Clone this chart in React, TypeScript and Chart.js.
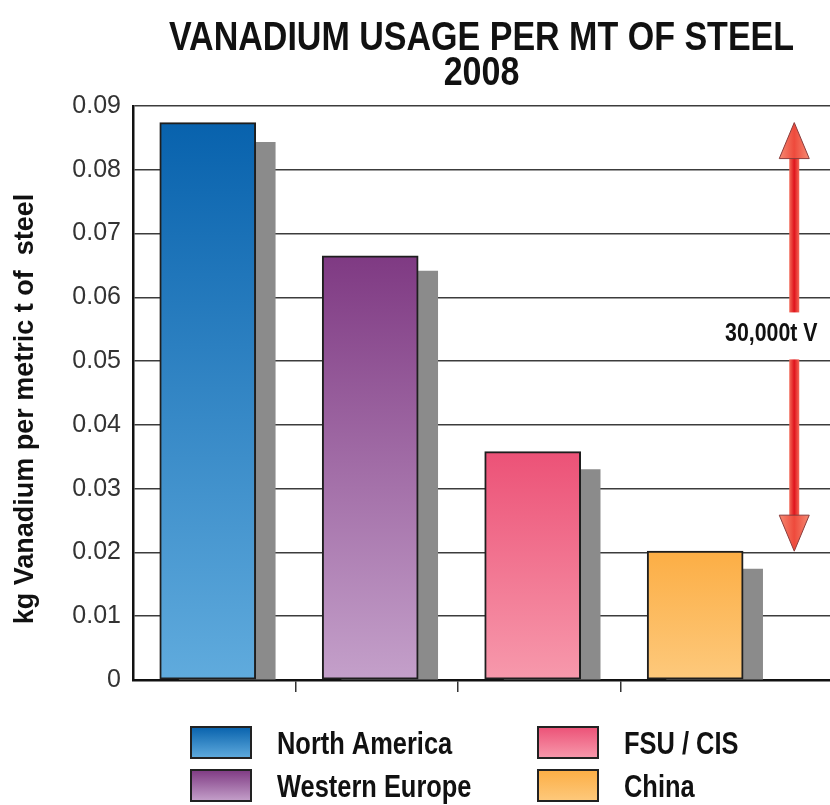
import React, { useEffect, useRef } from 'react';
import { Chart, registerables } from 'chart.js';

Chart.register(...registerables);

// ---------- data ----------
const TITLE_LINES = ['VANADIUM USAGE PER MT OF STEEL', '2008'];
const Y_TITLE = 'kg Vanadium per metric t of  steel';
const CATEGORIES = ['North America', 'Western Europe', 'FSU / CIS', 'China'];
const USAGE = [0.0874, 0.0665, 0.0358, 0.0202];
const SHADOW = [0.0843, 0.0641, 0.033, 0.0174];
const Y_TICK_LABELS = ['0', '0.01', '0.02', '0.03', '0.04', '0.05', '0.06', '0.07', '0.08', '0.09'];
const ARROW_LABEL = '30,000t V';
const ARROW_LABEL_AT = 0.0545;

// ---------- styles ----------
const TOP_COLORS = ['#0862ad', '#7f3a83', '#ec5277', '#fcae45'];
const BOTTOM_COLORS = ['#60abdd', '#c4a0ca', '#f799ac', '#fdc97c'];
const SHADOW_COLOR = '#8b8b8b';
const X_MAX = 4.29;
const BAR_POS = 0.46;
const SHADOW_SHIFT = 0.12;
const ARROW_X = 4.07;
const NARROW = 0.82;
const FONT = '"Liberation Sans", Arial, sans-serif';

function narrowText(
  ctx: CanvasRenderingContext2D,
  text: string,
  x: number,
  y: number,
  size: number,
  align: CanvasTextAlign,
  scaleX = NARROW
) {
  ctx.save();
  ctx.translate(x, y);
  ctx.scale(scaleX, 1);
  ctx.font = `bold ${size}px ${FONT}`;
  ctx.fillStyle = '#111';
  ctx.textAlign = align;
  ctx.textBaseline = 'alphabetic';
  ctx.fillText(text, 0, 0);
  ctx.restore();
}

const textPlugin = {
  id: 'textPlugin',
  afterDraw(chart: any) {
    const { ctx, chartArea } = chart;
    const cx = (chartArea.left + chartArea.right) / 2;
    // title
    narrowText(ctx, TITLE_LINES[0], cx, chartArea.top - 56, 41, 'center', 0.83);
    narrowText(ctx, TITLE_LINES[1], cx, chartArea.top - 21, 41, 'center', 0.83);
    // y title
    ctx.save();
    ctx.translate(33, (chartArea.top + chartArea.bottom) / 2 + 16);
    ctx.rotate(-Math.PI / 2);
    ctx.font = `bold 27px ${FONT}`;
    ctx.fillStyle = '#111';
    ctx.textAlign = 'center';
    ctx.textBaseline = 'alphabetic';
    ctx.fillText(Y_TITLE, 0, 0);
    ctx.restore();
    // legend
    CATEGORIES.forEach((name, i) => {
      const col = Math.floor(i / 2);
      const row = i % 2;
      const bx = 191 + col * 347;
      const by = chartArea.bottom + 47 + row * 43;
      const bw = 60;
      const bh = 31;
      const g = ctx.createLinearGradient(0, by, 0, by + bh);
      g.addColorStop(0, TOP_COLORS[i]);
      g.addColorStop(1, BOTTOM_COLORS[i]);
      ctx.save();
      ctx.fillStyle = g;
      ctx.fillRect(bx, by, bw, bh);
      ctx.strokeStyle = '#222';
      ctx.lineWidth = 2;
      ctx.strokeRect(bx, by, bw, bh);
      ctx.restore();
      narrowText(ctx, name, bx + 86, by + bh / 2 + 11, 31, 'left');
    });
  },
};

const arrowPlugin = {
  id: 'arrowPlugin',
  afterDatasetsDraw(chart: any) {
    const { ctx } = chart;
    const xs = chart.scales.x;
    const ys = chart.scales.y;
    const x = xs.getPixelForValue(ARROW_X);
    const yTop = ys.getPixelForValue(Math.max(...USAGE));
    const yBot = ys.getPixelForValue(Math.min(...USAGE));
    const yMid = ys.getPixelForValue(ARROW_LABEL_AT);
    const gapTop = yMid - 20;
    const gapBot = yMid + 27;
    const headLen = 36;
    const headW = 15;
    const shaftW = 5;

    const shaftGrad = ctx.createLinearGradient(x - shaftW, 0, x + shaftW, 0);
    shaftGrad.addColorStop(0, '#f26a58');
    shaftGrad.addColorStop(0.5, '#e0141c');
    shaftGrad.addColorStop(1, '#f26a58');
    const headGrad = ctx.createLinearGradient(x - headW, 0, x + headW, 0);
    headGrad.addColorStop(0, '#f68a72');
    headGrad.addColorStop(0.5, '#ee4a3c');
    headGrad.addColorStop(1, '#f68a72');

    ctx.save();
    ctx.fillStyle = shaftGrad;
    ctx.fillRect(x - shaftW, yTop + headLen - 2, shaftW * 2, gapTop - (yTop + headLen - 2));
    ctx.fillRect(x - shaftW, gapBot, shaftW * 2, yBot - headLen + 2 - gapBot);
    ctx.fillStyle = headGrad;
    ctx.strokeStyle = '#8a3c3c';
    ctx.lineWidth = 1;
    ctx.beginPath();
    ctx.moveTo(x, yTop);
    ctx.lineTo(x + headW, yTop + headLen);
    ctx.lineTo(x - headW, yTop + headLen);
    ctx.closePath();
    ctx.fill();
    ctx.stroke();
    ctx.beginPath();
    ctx.moveTo(x, yBot);
    ctx.lineTo(x + headW, yBot - headLen);
    ctx.lineTo(x - headW, yBot - headLen);
    ctx.closePath();
    ctx.fill();
    ctx.stroke();
    ctx.restore();

    narrowText(ctx, ARROW_LABEL, x - 23, yMid + 9, 26, 'center');
  },
};

export default function App() {
  const ref = useRef<HTMLCanvasElement>(null);

  useEffect(() => {
    const canvas = ref.current;
    if (!canvas) return;
    const barGradient = (c: any) => {
      const i = c.dataIndex;
      if (i === undefined) return TOP_COLORS[0];
      const chart = c.chart;
      const area = chart.chartArea;
      if (!area) return TOP_COLORS[i];
      const top = chart.scales.y.getPixelForValue(USAGE[i]);
      const g = chart.ctx.createLinearGradient(0, top, 0, area.bottom);
      g.addColorStop(0, TOP_COLORS[i]);
      g.addColorStop(1, BOTTOM_COLORS[i]);
      return g;
    };

    const chart = new Chart(canvas, {
      type: 'bar',
      data: {
        datasets: [
          {
            label: 'Usage',
            data: CATEGORIES.map((_, i) => ({ x: i + BAR_POS, y: USAGE[i] })),
            backgroundColor: barGradient,
            borderColor: '#1e1e1e',
            borderWidth: 2,
            borderSkipped: false,
            barThickness: 96,
            grouped: false,
            order: 0,
          } as any,
          {
            label: 'Shadow',
            data: CATEGORIES.map((_, i) => ({ x: i + BAR_POS + SHADOW_SHIFT, y: SHADOW[i] })),
            backgroundColor: SHADOW_COLOR,
            borderWidth: 0,
            barThickness: 96,
            grouped: false,
            order: 1,
          } as any,
        ],
      },
      options: {
        animation: false,
        responsive: true,
        maintainAspectRatio: false,
        layout: { padding: { top: 106, left: 0, right: 0, bottom: 0 } },
        plugins: {
          legend: { display: false },
          title: { display: false },
          tooltip: { enabled: false },
        },
        scales: {
          x: {
            type: 'linear',
            offset: false,
            min: 0,
            max: X_MAX,
            afterBuildTicks: (s: any) => {
              s.ticks = CATEGORIES.slice(1).map((_, i) => ({ value: i + 1 }));
            },
            ticks: { display: false },
            grid: {
              offset: false,
              drawOnChartArea: false,
              drawTicks: true,
              tickLength: 12,
              color: '#333',
              lineWidth: 1.5,
            },
            border: { display: true, color: '#111', width: 2.5 },
            afterFit: (s: any) => {
              s.height = 125;
            },
          },
          y: {
            min: 0,
            max: 0.09,
            ticks: {
              stepSize: 0.01,
              padding: 12,
              color: '#333',
              font: { family: FONT, size: 25 },
              callback: (_v: any, idx: number) => Y_TICK_LABELS[idx],
            },
            grid: { color: '#3c3c3c', lineWidth: 1.5, drawTicks: false },
            border: { display: true, color: '#111', width: 2.5 },
            afterFit: (s: any) => {
              s.width = 133;
            },
          },
        },
      } as any,
      plugins: [arrowPlugin, textPlugin],
    });
    return () => chart.destroy();
  }, []);

  return (
    <div style={{ position: 'fixed', left: 0, top: 0, width: 830, height: 805, background: '#fff' }}>
      <canvas ref={ref} />
    </div>
  );
}
